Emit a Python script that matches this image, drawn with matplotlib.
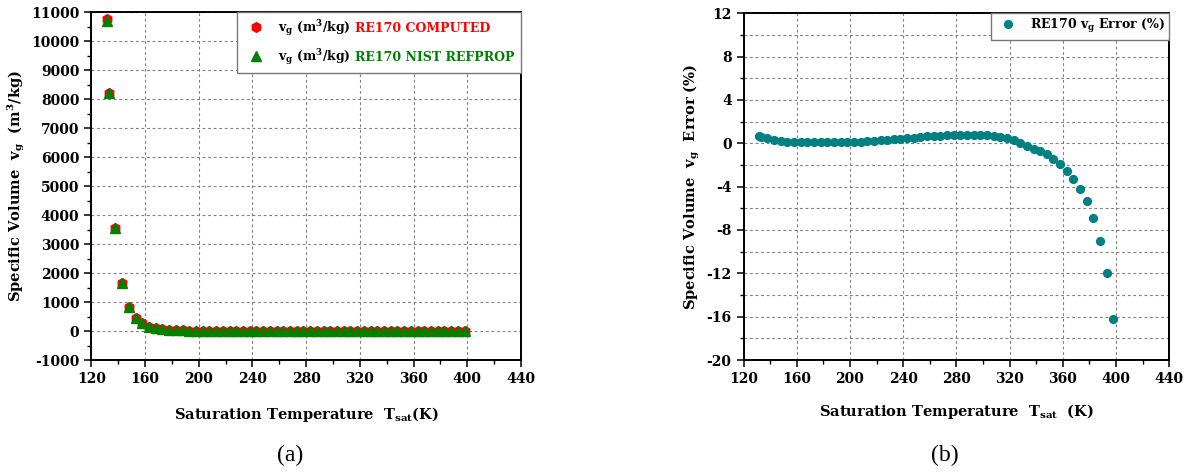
import matplotlib
matplotlib.use('Agg')
import matplotlib.pyplot as plt
from matplotlib.ticker import MultipleLocator
from matplotlib.lines import Line2D
from matplotlib.offsetbox import AnchoredOffsetbox, HPacker, VPacker, TextArea, DrawingArea

plt.rcParams['font.family'] = 'DejaVu Serif'
plt.rcParams['font.weight'] = 'bold'
plt.rcParams['axes.labelweight'] = 'bold'
plt.rcParams['axes.unicode_minus'] = False
plt.rcParams['mathtext.fontset'] = 'custom'
plt.rcParams['mathtext.rm'] = 'DejaVu Serif:bold'
plt.rcParams['mathtext.it'] = 'DejaVu Serif:bold'
plt.rcParams['mathtext.bf'] = 'DejaVu Serif:bold'

# saturation temperatures (K)
t_sat = [131.66, 133, 138, 143, 148, 153, 158, 163, 168, 173, 178, 183, 188, 193,
         198, 203, 208, 213, 218, 223, 228, 233, 238, 243, 248, 253, 258, 263,
         268, 273, 278, 283, 288, 293, 298, 303, 308, 313, 318, 323, 328, 333,
         338, 343, 348, 353, 358, 363, 368, 373, 378, 383, 388, 393, 398]

# specific volume of saturated vapour (m3/kg)
vg_computed = [10760, 8226, 3550, 1650, 840, 440, 262, 150, 92, 60, 41, 29, 21, 15,
               10.8, 7.9, 5.8, 4.4, 3.3, 2.5, 1.95, 1.5, 1.2, 0.93, 0.74, 0.59, 0.48, 0.39,
               0.32, 0.27, 0.22, 0.19, 0.16, 0.135, 0.115, 0.1, 0.085, 0.074, 0.064, 0.056, 0.049, 0.043,
               0.038, 0.033, 0.029, 0.026, 0.023, 0.02, 0.018, 0.016, 0.014, 0.012, 0.01, 0.009, 0.007]
vg_nist = [10700, 8200, 3545, 1648, 838, 439, 261, 150, 92, 60, 41, 29, 21, 15,
           10.8, 7.9, 5.8, 4.4, 3.3, 2.5, 1.95, 1.5, 1.2, 0.93, 0.74, 0.59, 0.48, 0.39,
           0.32, 0.27, 0.22, 0.19, 0.16, 0.135, 0.115, 0.1, 0.085, 0.074, 0.064, 0.056, 0.049, 0.043,
           0.038, 0.033, 0.029, 0.026, 0.023, 0.02, 0.018, 0.016, 0.014, 0.012, 0.01, 0.009, 0.008]

# error between the two (%)
vg_error = [0.67, 0.60, 0.46, 0.32, 0.22, 0.16, 0.13, 0.11, 0.10, 0.09, 0.09, 0.09, 0.09, 0.10,
            0.11, 0.13, 0.15, 0.18, 0.22, 0.26, 0.31, 0.36, 0.42, 0.48, 0.53, 0.58, 0.63, 0.67,
            0.71, 0.74, 0.76, 0.78, 0.79, 0.79, 0.78, 0.75, 0.70, 0.62, 0.48, 0.28, 0.06, -0.22,
            -0.50, -0.72, -0.99, -1.42, -1.91, -2.53, -3.32, -4.22, -5.32, -6.86, -8.99, -11.94, -16.24]

TEAL = '#008080'

fig = plt.figure(figsize=(11.87, 4.75), dpi=100)
ax1 = fig.add_axes([0.0769, 0.2421, 0.362, 0.732])
ax2 = fig.add_axes([0.6264, 0.2421, 0.3586, 0.730])


def style_axes(ax):
    for s in ax.spines.values():
        s.set_linewidth(1.4)
    ax.tick_params(which='major', direction='out', length=5, width=1.1, labelsize=10)
    ax.tick_params(which='minor', direction='out', length=3, width=1.0)
    ax.tick_params(top=False, right=False, which='both')
    ax.set_axisbelow(True)


def make_legend(ax, rows, pad):
    packed = []
    for marker, col, ms, parts in rows:
        da = DrawingArea(22, 8, 0, 0)
        da.add_artist(Line2D([9], [3.5], marker=marker, color=col, ms=ms, ls='none'))
        boxes = [da] + [TextArea(t, textprops=dict(color=c, size=9, weight='bold')) for t, c in parts]
        packed.append(HPacker(children=boxes, align='baseline', pad=0, sep=3))
    box = VPacker(children=packed, align='left', pad=0, sep=6)
    anch = AnchoredOffsetbox(loc='upper right', child=box, pad=pad, borderpad=0, frameon=True)
    anch.patch.set_boxstyle('square', pad=0)
    anch.patch.set_edgecolor('#777777')
    anch.patch.set_linewidth(1.0)
    ax.add_artist(anch)


# (a) specific volume
style_axes(ax1)
ax1.plot(t_sat, vg_computed, ls='none', marker='h', ms=7, color='red', mec='red')
ax1.plot(t_sat, vg_nist, ls='none', marker='^', ms=7, color='green', mec='green')
ax1.set_xlim(120, 440)
ax1.set_ylim(-1000, 11000)
ax1.xaxis.set_major_locator(MultipleLocator(40))
ax1.xaxis.set_minor_locator(MultipleLocator(20))
ax1.yaxis.set_major_locator(MultipleLocator(1000))
ax1.yaxis.set_minor_locator(MultipleLocator(500))
ax1.grid(True, which='major', color='#808080', ls=(0, (2.5, 2.5)), lw=0.8)
ax1.set_xlabel(r'Saturation Temperature  $T_{sat}$(K)', fontsize=10.5, labelpad=14)
ax1.set_ylabel(r'Specific Volume  $v_g$  (m$^3$/kg)', fontsize=10.5, labelpad=3)
make_legend(ax1, [
    ('h', 'red', 7, [(r'$v_g$ (m$^3$/kg)', 'black'), ('RE170 COMPUTED', 'red')]),
    ('^', 'green', 7, [(r'$v_g$ (m$^3$/kg)', 'black'), ('RE170 NIST REFPROP', 'green')]),
], pad=0.45)

# (b) error
style_axes(ax2)
ax2.plot(t_sat, vg_error, ls='none', marker='o', ms=5.6, color=TEAL, mec=TEAL)
ax2.set_xlim(120, 440)
ax2.set_ylim(-20, 12)
ax2.xaxis.set_major_locator(MultipleLocator(40))
ax2.xaxis.set_minor_locator(MultipleLocator(20))
ax2.yaxis.set_major_locator(MultipleLocator(4))
ax2.yaxis.set_minor_locator(MultipleLocator(2))
ax2.grid(True, which='major', color='#808080', ls=(0, (2.5, 2.5)), lw=0.8)
ax2.grid(True, which='minor', axis='y', color='#808080', ls=(0, (2.5, 2.5)), lw=0.8)
ax2.set_xlabel(r'Saturation Temperature  $T_{sat}$  (K)', fontsize=10.5, labelpad=12)
ax2.set_ylabel(r'Specific Volume  $v_g$  Error (%)', fontsize=10.5, labelpad=3)
make_legend(ax2, [
    ('o', TEAL, 5.6, [(r'RE170 $v_g$ Error (%)', 'black')]),
], pad=0.3)

fig.text(0.244, 0.042, '(a)', fontsize=17, fontweight='normal', family='Liberation Serif',
         ha='center', va='center')
fig.text(0.796, 0.042, '(b)', fontsize=17, fontweight='normal', family='Liberation Serif',
         ha='center', va='center')

fig.savefig('out.png', dpi=100)
